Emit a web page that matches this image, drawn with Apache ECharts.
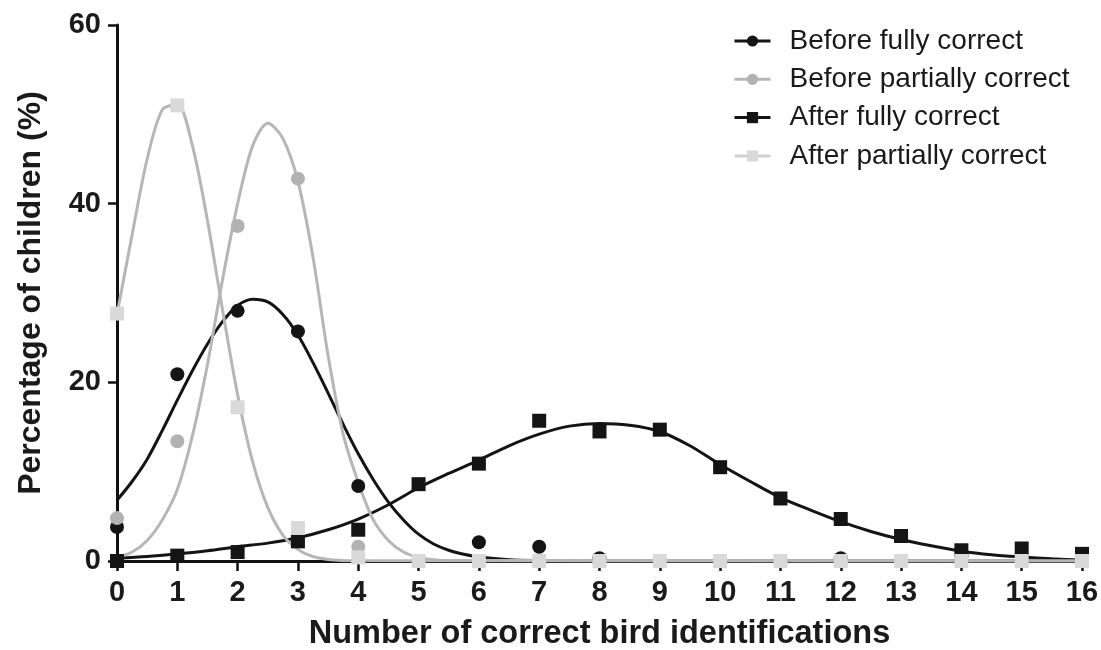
<!DOCTYPE html>
<html>
<head>
<meta charset="utf-8">
<script src="https://cdn.jsdelivr.net/npm/echarts@6/dist/echarts.min.js"></script>
<style>
html,body{margin:0;padding:0;background:#fff;}
#chart{width:1101px;height:650px;}
</style>
</head>
<body>
<div id="chart"></div>
<script>
// ---- observed data (number of correct identifications, % of children) ----
const identifications = [0,1,2,3,4,5,6,7,8,9,10,11,12,13,14,15,16];
const beforeFully     = [3.8,20.9,28.0,25.7,8.4,0,2.1,1.6,0.3,0,0,0,0.3,0,0,0,0];
const beforePartially = [4.8,13.4,37.5,42.8,1.6,0,0,0,0,0,0,0,0,0,0,0,0];
const afterFully      = [0,0.6,1.0,2.2,3.5,8.6,10.9,15.7,14.5,14.7,10.5,7.0,4.7,2.8,1.2,1.4,0.8];
const afterPartially  = [27.7,51.0,17.2,3.7,0.4,0,0,0,0,0,0,0,0,0,0,0,0];

// ---- fitted curves ----
const curveBeforeFullyX = [0,0.25,0.5,0.75,1,1.25,1.5,1.75,2,2.25,2.5,2.75,3,3.25,3.5,3.75,4,4.25,4.5,4.75,5,5.25,5.5,5.75,6,6.5,7,7.5,16];
const curveBeforeFullyY = [6.8,8.9,11.4,14.6,18.0,21.3,24.3,26.8,28.6,29.3,29.0,27.6,25.3,22.2,18.8,15.3,12.0,9.1,6.6,4.6,3.0,1.9,1.2,0.75,0.45,0.15,0.05,0,0];
const curveBeforePartX  = [0,0.25,0.5,0.75,1,1.25,1.5,1.75,2,2.25,2.5,2.75,3,3.25,3.5,3.75,4,4.25,4.5,4.75,5,5.25,5.5,16];
const curveBeforePartY  = [0.4,1.0,2.3,4.6,8.0,14,22,31.5,40,46.5,49,47.3,42.5,34,23,14.2,8.8,4.6,2.3,1.0,0.4,0.15,0.05,0];
const curveAfterFullyX  = [0,0.5,1,1.5,2,2.5,3,3.5,4,4.5,5,5.5,6,6.5,7,7.5,8,8.5,9,9.5,10,10.5,11,11.5,12,12.5,13,13.5,14,14.5,15,15.5,16];
const curveAfterFullyY  = [0.3,0.5,0.8,1.15,1.6,2.0,2.6,3.5,4.7,6.3,8.2,9.8,11.3,12.9,14.2,15.1,15.4,15.2,14.5,12.9,10.8,8.9,7.1,5.7,4.4,3.3,2.4,1.7,1.1,0.7,0.45,0.25,0.1];
const curveAfterPartX   = [0,0.25,0.5,0.75,1,1.25,1.5,1.75,2,2.25,2.5,2.75,3,3.25,3.5,3.75,4,16];
const curveAfterPartY   = [27.6,36.5,45,50.5,51.1,46.5,38.1,28.1,18.6,11.1,6.0,2.9,1.3,0.5,0.18,0.06,0.02,0];

const xTicks = {min:0, max:16, interval:1};
const yTicks = {min:0, max:60, interval:20};

const names = ['Before fully correct','Before partially correct','After fully correct','After partially correct'];

const FONT = '"Liberation Sans", Arial, sans-serif';
const BLACK = '#141414';
const GREY_DOT = '#b2b2b2';
const GREY_LINE = '#b6b6b6';
const LIGHT = '#d9d9d9';

function pairs(xs, ys){ return xs.map((x,i)=>[x, ys[i]]); }

const chart = echarts.init(document.getElementById('chart'), null, {renderer:'canvas'});

function curve(name, xs, ys, color, symbol, z){
  return {
    type:'line', name:name, data:pairs(xs,ys), smooth:0.3,
    showSymbol:false, symbol:symbol, symbolSize:12,
    lineStyle:{color:color, width:3}, itemStyle:{color:color},
    z:z, silent:true, animation:false
  };
}
function dots(name, ys, color, symbol, size, z){
  return {
    type:'scatter', name:name, data:pairs(identifications, ys),
    symbol:symbol, symbolSize:size, itemStyle:{color:color, opacity:1},
    z:z, silent:true, animation:false
  };
}

const option = {
  backgroundColor:'#fff',
  animation:false,
  textStyle:{fontFamily:FONT},
  grid:{left:117, right:19, top:25, bottom:89, containLabel:false, outerBoundsMode:'none'},
  legend:{
    orient:'vertical', left:733, top:27, padding:0,
    itemWidth:36, itemHeight:14, itemGap:10.3,
    textStyle:{fontFamily:FONT, fontSize:28, color:'#1a1a1a', padding:[0,0,0,14]},
    data:[
      {name:names[0], itemStyle:{color:BLACK}, lineStyle:{color:BLACK, width:3}},
      {name:names[1], itemStyle:{color:GREY_DOT}, lineStyle:{color:GREY_LINE, width:3}},
      {name:names[2], itemStyle:{color:BLACK}, lineStyle:{color:BLACK, width:3}},
      {name:names[3], itemStyle:{color:LIGHT}, lineStyle:{color:'#d2d2d2', width:3}}
    ],
    selectedMode:false
  },
  xAxis:{
    type:'value', min:xTicks.min, max:xTicks.max, interval:xTicks.interval,
    name:'Number of correct bird identifications', nameLocation:'middle', nameGap:57,
    nameTextStyle:{fontFamily:FONT, fontSize:32.5, fontWeight:'bold', color:'#1a1a1a'},
    axisLine:{show:true, lineStyle:{color:'#111', width:3}},
    axisTick:{show:true, inside:false, length:10, lineStyle:{color:'#111', width:2.5}},
    axisLabel:{fontFamily:FONT, fontSize:29, fontWeight:'bold', color:'#1a1a1a', margin:17},
    splitLine:{show:false}
  },
  yAxis:{
    type:'value', min:yTicks.min, max:yTicks.max, interval:yTicks.interval,
    name:'Percentage of children (%)', nameLocation:'middle', nameGap:70,
    nameTextStyle:{fontFamily:FONT, fontSize:32, fontWeight:'bold', color:'#1a1a1a'},
    axisLine:{show:true, lineStyle:{color:'#111', width:3}},
    axisTick:{show:true, inside:false, length:9, lineStyle:{color:'#111', width:2.5}},
    axisLabel:{fontFamily:FONT, fontSize:29, fontWeight:'bold', color:'#1a1a1a', margin:16},
    splitLine:{show:false}
  },
  series:[
    curve(names[0], curveBeforeFullyX, curveBeforeFullyY, BLACK, 'circle', 2),
    curve(names[1], curveBeforePartX, curveBeforePartY, GREY_LINE, 'circle', 3),
    curve(names[2], curveAfterFullyX, curveAfterFullyY, BLACK, 'rect', 2),
    curve(names[3], curveAfterPartX, curveAfterPartY, GREY_LINE, 'rect', 3),
    dots(names[0], beforeFully, BLACK, 'circle', 14, 4),
    dots(names[1], beforePartially, GREY_DOT, 'circle', 14, 5),
    dots(names[2], afterFully, BLACK, 'rect', 14, 6),
    dots(names[3], afterPartially, LIGHT, 'rect', 14, 7)
  ]
};
chart.setOption(option);
</script>
</body>
</html>
